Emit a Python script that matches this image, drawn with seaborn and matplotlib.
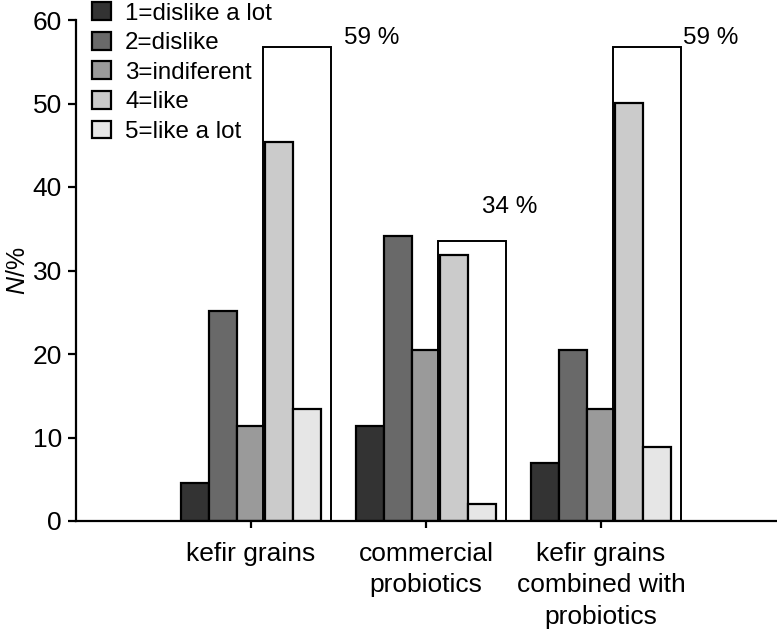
import matplotlib
matplotlib.use("Agg")

import matplotlib.pyplot as plt
import pandas as pd
import seaborn as sns
from matplotlib.patches import Rectangle

# data
groups = ["kefir grains", "commercial\nprobiotics", "kefir grains\ncombined with\nprobiotics"]
ratings = ["1=dislike a lot", "2=dislike", "3=indiferent", "4=like", "5=like a lot"]
dislike_lot = [4.5, 11.4, 6.9]
dislike = [25.2, 34.1, 20.5]
indifferent = [11.4, 20.5, 13.4]
like = [45.4, 31.9, 50.1]
like_lot = [13.4, 2.0, 8.9]
box_tops = [56.8, 33.5, 56.8]
box_labels = ["59 %", "34 %", "59 %"]

colors = ["#333333", "#696969", "#9a9a9a", "#cbcbcb", "#e6e6e6"]

series = [dislike_lot, dislike, indifferent, like, like_lot]
rows = []
for rating, vals in zip(ratings, series):
    for g, v in zip(groups, vals):
        rows.append({"group": g, "rating": rating, "value": v})
df = pd.DataFrame(rows)

sns.set_style("ticks")
plt.rcParams["font.family"] = ["Liberation Sans", "DejaVu Sans"]
plt.rcParams["mathtext.fontset"] = "custom"
plt.rcParams["mathtext.it"] = "Liberation Sans:italic"
plt.rcParams["mathtext.rm"] = "Liberation Sans"
plt.rcParams["text.color"] = "black"
plt.rcParams["axes.labelcolor"] = "black"
plt.rcParams["xtick.color"] = "black"
plt.rcParams["ytick.color"] = "black"

fig = plt.figure(figsize=(7.77, 6.35), dpi=100)
ax = fig.add_axes([76 / 777, 114 / 635, 700 / 777, 501 / 635])

sns.barplot(
    data=df, x="group", y="value", hue="rating",
    order=groups, hue_order=ratings, palette=colors,
    width=0.8, edgecolor="black", linewidth=1.6, ax=ax,
)

# outline boxes around the "like" + "like a lot" bars
for i, top in enumerate(box_tops):
    ax.add_patch(Rectangle((i + 0.07, 0), 0.387, top, fill=False,
                           edgecolor="black", linewidth=1.4, zorder=1))
label_dx = [0.533, 0.318, 0.47]
label_y = [57.8, 37.6, 57.8]
for i, lab in enumerate(box_labels):
    ax.text(i + label_dx[i], label_y[i], lab, ha="left", va="center", fontsize=17.5)

ax.set_xlim(-1, 3)
ax.set_ylim(0, 60)
ax.set_yticks(range(0, 61, 10))
ax.set_xlabel("")
ax.set_ylabel("$\\mathit{N}$/%", fontsize=18, labelpad=2)
ax.tick_params(axis="both", labelsize=19, width=1.6, length=6, color="black")
ax.tick_params(axis="y", pad=4)
ax.tick_params(axis="x", length=5, pad=10)
for lbl in ax.get_xticklabels():
    lbl.set_linespacing(1.4)
for side in ["top", "right"]:
    ax.spines[side].set_visible(False)
for side in ["left", "bottom"]:
    ax.spines[side].set_linewidth(1.6)
    ax.spines[side].set_color("black")

ax.legend(
    loc="upper left", bbox_to_anchor=(90 / 777, 1.0), bbox_transform=fig.transFigure,
    frameon=False, fontsize=17.4, handlelength=0.75, handleheight=0.75,
    handletextpad=0.6, labelspacing=0.3, borderpad=0.1, borderaxespad=0,
)

fig.savefig("out.png", dpi=100)
plt.close(fig)
